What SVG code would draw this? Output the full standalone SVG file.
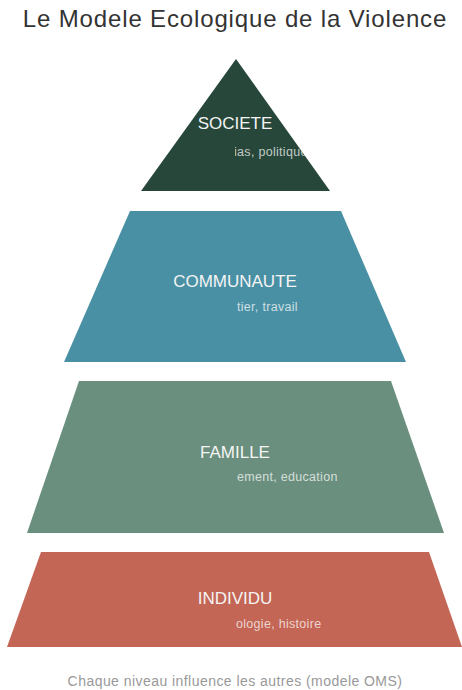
<svg xmlns="http://www.w3.org/2000/svg" width="462" height="690" viewBox="0 0 462 690">
<defs>
<style>
.title{font-family:"Liberation Sans",Arial,sans-serif;font-size:24px;fill:#333333;letter-spacing:0.85px;text-anchor:middle}
.lbl{font-family:"Liberation Sans",Arial,sans-serif;font-size:17px;fill:#f4f4f4;text-anchor:middle}
.sub{font-family:"Liberation Sans",Arial,sans-serif;font-size:12.5px;fill:#ffffff;fill-opacity:0.72;letter-spacing:0.3px}
.cap{font-family:"Liberation Sans",Arial,sans-serif;font-size:14px;fill:#999999;letter-spacing:0.45px;text-anchor:middle}
</style>
<clipPath id="triClip"><polygon points="236,59 330,191 141,191"/></clipPath>
<clipPath id="rightHalf"><rect x="235" y="0" width="227" height="690"/></clipPath>
</defs>
<rect width="462" height="690" fill="#ffffff"/>
<text class="title" x="235" y="27">Le Modele Ecologique de la Violence</text>
<g id="societe">
<polygon points="236,59 330,191 141,191" fill="#27473b"/>
<text class="lbl" x="235" y="129">SOCIETE</text>
<g clip-path="url(#triClip)"><text class="sub" x="234" y="156" clip-path="url(#rightHalf)">ias, politique</text></g>
</g>
<g id="communaute">
<polygon points="130,211 341,211 406,362 64,362" fill="#4a90a4"/>
<text class="lbl" x="235" y="287">COMMUNAUTE</text>
<text class="sub" x="237" y="311">tier, travail</text>
</g>
<g id="famille">
<polygon points="79,381 391,381 444,533 27,533" fill="#6a8f7e"/>
<text class="lbl" x="235" y="458">FAMILLE</text>
<text class="sub" x="237" y="481">ement, education</text>
</g>
<g id="individu">
<polygon points="41,552 429,552 462,647 7,647" fill="#c46655"/>
<text class="lbl" x="235" y="604">INDIVIDU</text>
<text class="sub" x="236" y="628">ologie, histoire</text>
</g>
<g id="connectors"></g>
<text class="cap" x="235" y="686">Chaque niveau influence les autres (modele OMS)</text>
</svg>
